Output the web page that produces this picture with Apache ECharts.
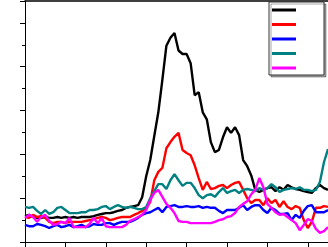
<!DOCTYPE html>
<html>
<head>
<meta charset="utf-8">
<script src="https://cdn.jsdelivr.net/npm/echarts@6/dist/echarts.min.js"></script>
<style>html,body{margin:0;padding:0;background:#fff}#c{width:328px;height:247px}</style>
</head>
<body>
<div id="c"></div>
<script>
const xs = ['0','1','2','3','4','5','6','7','8','9','10','11','12','13','14','15','16','17','18','19','20','21','22','23','24','25','26','27','28','29','30','31','32','33','34','35','36','37','38','39','40','41','42','43','44','45','46','47','48','49','50','51','52','53','54','55','56','57','58','59','60','61','62','63','64','65','66','67','68','69','70','71','72','73','74','75'];
const seriesNames = ['s1','s2','s3','s4','s5'];
const blackVals = [59,62,57,55,55,57,55,55,57,55,57,55,57,55,57,57,57,59,62,64,66,66,68,71,73,78,80,82,84,102,150,187,242,296,370,448,466,477,437,429,429,408,335,342,296,280,228,205,210,239,262,249,262,244,187,173,152,119,114,119,123,125,116,125,119,130,125,121,119,116,114,112,123,130,123,119];
const redVals = [57,55,62,57,59,55,46,43,46,46,43,46,46,46,46,48,50,52,55,57,55,50,52,55,57,57,57,62,66,71,78,91,141,160,169,214,228,240,249,210,203,198,175,146,119,137,121,123,128,130,123,130,135,137,119,100,89,96,96,84,100,89,96,80,93,80,75,82,78,50,32,46,78,78,82,80];
const blueVals = [39,36,36,41,39,36,32,36,39,34,36,39,34,36,39,34,36,41,39,39,43,43,39,43,46,46,46,50,55,62,66,68,73,78,68,80,82,84,80,80,82,80,80,82,78,80,78,78,71,66,73,73,73,78,84,73,80,84,84,73,66,78,73,64,64,66,50,62,55,71,82,84,68,68,68,73];
const tealVals = [80,78,80,71,64,73,64,68,78,80,73,66,66,66,68,68,73,73,75,80,82,75,80,84,80,78,80,78,75,75,80,100,116,132,132,121,141,155,141,128,135,135,123,107,100,107,109,103,114,123,112,116,119,112,119,121,119,116,123,119,123,132,125,114,119,121,123,121,125,119,119,116,119,137,182,212];
const magentaVals = [55,62,57,46,57,62,48,39,41,46,43,55,34,34,34,34,41,55,43,55,36,34,34,34,34,39,48,52,57,62,73,96,112,119,103,87,78,66,48,46,46,43,43,43,43,43,43,46,50,52,57,59,66,80,87,93,109,119,146,125,87,78,68,62,64,57,50,43,27,39,52,48,30,21,25,34];
const colors = ['#000000','#ff0000','#0000ff','#008080','#ff00ff'];
const allVals = [blackVals, redVals, blueVals, tealVals, magentaVals];

const chart = echarts.init(document.getElementById('c'), null, {renderer:'canvas'});
chart.setOption({
  animation: false,
  backgroundColor: '#fff',
  grid: {left: 25, right: 0, top: 1, bottom: 5, containLabel: false},
  xAxis: [{
    type: 'category', data: xs, boundaryGap: false, position: 'bottom',
    axisLine: {show: true, lineStyle: {color: '#000', width: 1}},
    axisTick: {show: true, length: 5, inside: false, interval: function(i){return i % 10 === 0;}, lineStyle: {color: '#000', width: 1}},
    axisLabel: {show: false}, splitLine: {show: false}
  },{
    type: 'category', data: xs, boundaryGap: false, position: 'top',
    axisLine: {show: true, onZero: false, lineStyle: {color: '#000', width: 1.5}},
    axisTick: {show: false}, axisLabel: {show: false}, splitLine: {show: false}
  }],
  yAxis: {
    type: 'value', min: 0, max: 550, interval: 100,
    axisLine: {show: true, lineStyle: {color: '#000', width: 1}},
    axisTick: {show: true, length: 5, inside: false, lineStyle: {color: '#000', width: 1}},
    minorTick: {show: true, splitNumber: 2, length: 3, lineStyle: {color: '#000', width: 1}},
    axisLabel: {show: false}, splitLine: {show: false}
  },
  legend: {
    show: true, left: 269, top: 2, orient: 'vertical',
    data: seriesNames,
    icon: 'rect', itemWidth: 24, itemHeight: 3, itemGap: 11.5,
    formatter: function(){ return ''; },
    padding: [6.5, 28, 5.5, 3],
    backgroundColor: '#fff', borderColor: '#333', borderWidth: 1,
    shadowColor: 'rgba(0,0,0,0.35)', shadowOffsetX: 2, shadowOffsetY: 2, shadowBlur: 0,
    textStyle: {fontSize: 10}
  },
  series: seriesNames.map(function(n, k){
    return {
      name: n, type: 'line', data: allVals[k], showSymbol: false, symbol: 'none',
      lineStyle: {color: colors[k], width: 2.4}, itemStyle: {color: colors[k]},
      z: 2 + k
    };
  })
});
</script>
</body>
</html>
